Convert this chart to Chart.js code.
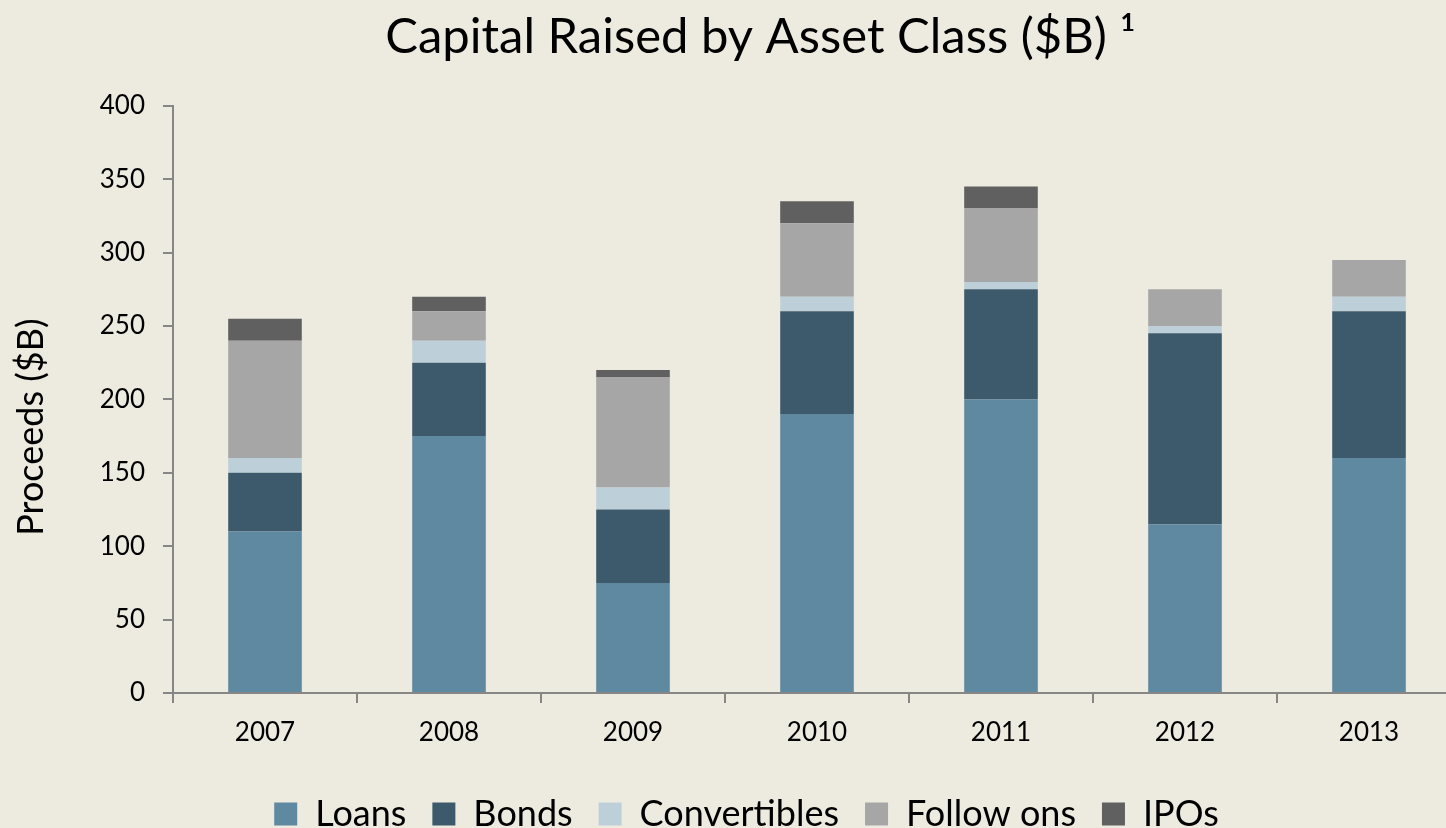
<!DOCTYPE html>
<html>
<head>
<meta charset="utf-8">
<script src="https://cdn.jsdelivr.net/npm/chart.js@4/dist/chart.umd.min.js"></script>
<style>
  html, body { margin: 0; padding: 0; background: #EDEBE0; overflow: hidden; width: 1446px; height: 828px; }
  #c { display: block; }
</style>
</head>
<body>
<canvas id="c" width="1492" height="828"></canvas>
<script>
const categories = ['2007', '2008', '2009', '2010', '2011', '2012', '2013'];
const loans        = [110, 175, 75, 190, 200, 115, 160];
const bonds        = [40, 50, 50, 70, 75, 130, 100];
const convertibles = [10, 15, 15, 10, 5, 5, 10];
const followOns    = [80, 20, 75, 50, 50, 25, 25];
const ipos         = [15, 10, 5, 15, 15, 0, 0];
const yTicks = [0, 50, 100, 150, 200, 250, 300, 350, 400];

const FONT = 'Lato';
const axisGray = '#868686';

// shift the title and legend blocks horizontally to match the reference centring
const shiftBlocks = {
  id: 'shiftBlocks',
  afterLayout(chart) {
    if (chart.titleBlock) { chart.titleBlock.left += 30; chart.titleBlock.right += 30; }
    if (chart.legend) { chart.legend.left += 16; chart.legend.right += 16; }
  }
};

new Chart(document.getElementById('c'), {
  type: 'bar',
  plugins: [shiftBlocks],
  data: {
    labels: categories,
    datasets: [
      { label: 'Loans', data: loans, backgroundColor: '#5F88A1' },
      { label: 'Bonds', data: bonds, backgroundColor: '#3D5A6C' },
      { label: 'Convertibles', data: convertibles, backgroundColor: '#BDD0DA' },
      { label: 'Follow ons', data: followOns, backgroundColor: '#A6A6A6' },
      { label: 'IPOs', data: ipos, backgroundColor: '#606060' }
    ]
  },
  options: {
    responsive: false,
    animation: false,
    datasets: { bar: { categoryPercentage: 1, barPercentage: 0.4 } },
    layout: { padding: { left: 0, right: 31, top: 0, bottom: -14 } },
    plugins: {
      tooltip: { enabled: false },
      title: {
        display: true,
        text: 'Capital Raised by Asset Class ($B) ¹',
        color: '#000',
        font: { family: FONT, size: 49, weight: 'normal' },
        padding: { top: 8, bottom: 39 }
      },
      legend: {
        position: 'bottom',
        labels: {
          color: '#000',
          font: { family: FONT, size: 36 },
          boxWidth: 23,
          boxHeight: 23,
          padding: 26
        }
      }
    },
    scales: {
      x: {
        stacked: true,
        afterFit: s => { s.height = 77; },
        grid: { display: true, offset: true, drawOnChartArea: false, drawTicks: true, tickLength: 10, color: axisGray, lineWidth: 2 },
        border: { display: true, color: axisGray, width: 2 },
        ticks: { color: '#000', font: { family: FONT, size: 26 }, padding: 14 }
      },
      y: {
        stacked: true,
        min: 0,
        max: 400,
        afterFit: s => { s.width = 173; },
        afterBuildTicks: s => { s.ticks = yTicks.map(v => ({ value: v })); },
        grid: { display: true, drawOnChartArea: false, drawTicks: true, tickLength: 10, color: axisGray, lineWidth: 2 },
        border: { display: true, color: axisGray, width: 2 },
        ticks: { color: '#000', font: { family: FONT, size: 26 }, padding: 18 },
        title: {
          display: true,
          text: 'Proceeds ($B)\u00A0\u00A0\u00A0\u00A0\u00A0\u00A0',
          color: '#000',
          font: { family: FONT, size: 36 },
          padding: { top: 10, bottom: 4 }
        }
      }
    }
  }
});
</script>
</body>
</html>
